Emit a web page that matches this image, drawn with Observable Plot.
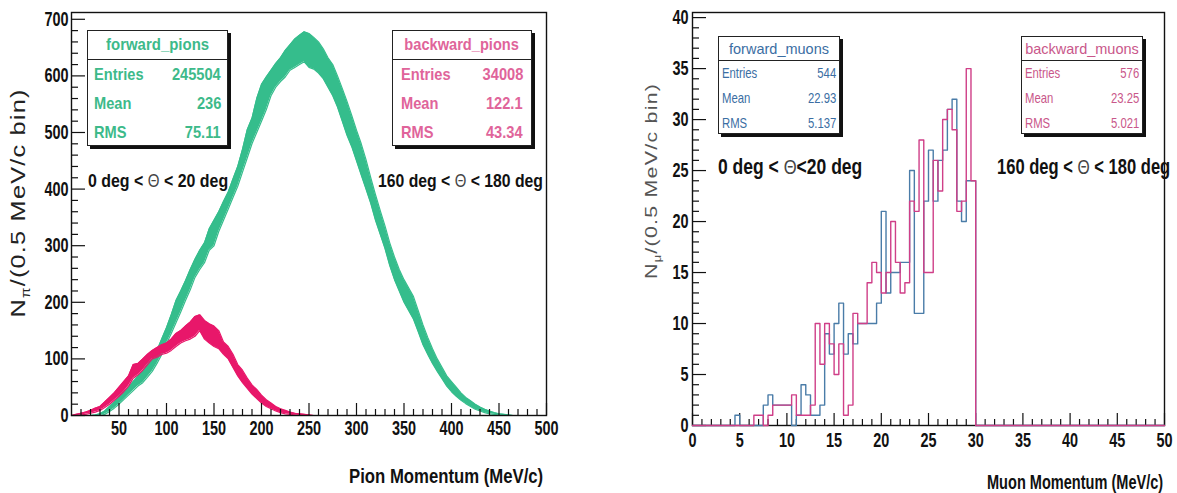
<!DOCTYPE html>
<html><head><meta charset="utf-8">
<script src="https://cdn.jsdelivr.net/npm/d3@7"></script>
<script src="https://cdn.jsdelivr.net/npm/@observablehq/plot@0.6"></script>
<style>
body{margin:0;background:#fff;}
#wrap{position:relative;width:1177px;height:493px;overflow:hidden;background:#fff;}
.panel{position:absolute;top:0;}
.stat{position:absolute;background:#fff;border:1.3px solid #222;box-shadow:3px 3px 0 #111;box-sizing:border-box;}
.stat .hd{border-bottom:1.3px solid #222;box-sizing:border-box;display:flex;align-items:center;justify-content:center;}
.stat .row{display:flex;justify-content:space-between;align-items:center;box-sizing:border-box;}
.stat span{display:inline-block;white-space:nowrap;}
</style></head>
<body><div id="wrap"></div>
<script>
// ---------- DATA ----------
// pion momentum grid (MeV/c), band: low / high edge of the noisy histogram
const pionMomentum = d3.range(0, 501, 5);
const forwardPionLow = [0,0,0,0,0,0,0,2,7,13,20,28,36,44,52,58,68,78,92,108,127,145,164,183,203,222,244,258,270,292,300,325,345,365,385,405,430,455,480,500,520,540,565,580,590,598,610,615,620,625,615,612,605,595,580,565,545,520,495,475,450,425,400,375,345,320,295,265,240,220,200,185,170,148,125,108,92,78,65,52,42,34,27,21,16,11,8,5,3,2,1,0,0,0,0,0,0,0,0,0,0];
const forwardPionHigh = [0,0,0,0,0,1,3,8,16,24,34,42,50,60,70,78,90,100,115,135,155,178,203,220,238,258,276,292,305,330,345,360,378,395,418,440,470,505,525,560,585,598,610,622,632,645,655,665,672,678,675,668,660,648,632,620,600,578,555,530,504,480,452,420,390,362,335,305,280,258,240,225,210,185,160,138,118,100,85,70,60,50,40,32,26,20,15,11,8,5,3,2,1,0,0,0,0,0,0,0,0];
const backwardPionLow = [0,0,1,2,4,6,9,14,20,27,34,42,52,66,72,80,90,100,103,108,110,115,122,128,132,135,140,150,135,128,122,118,108,100,85,70,58,48,38,30,22,16,12,8,5,3,2,1,0,0,0,0,0,0,0,0,0,0,0,0,0,0,0,0,0,0,0,0,0,0,0,0,0,0,0,0,0,0,0,0,0,0,0,0,0,0,0,0,0,0,0,0,0,0,0,0,0,0,0,0,0];
const backwardPionHigh = [0,2,4,6,9,13,16,24,32,40,50,60,70,90,92,100,108,115,120,125,128,135,145,150,158,165,175,178,168,162,158,150,130,122,108,90,80,66,54,46,36,28,22,16,12,9,6,4,3,2,1,0,0,0,0,0,0,0,0,0,0,0,0,0,0,0,0,0,0,0,0,0,0,0,0,0,0,0,0,0,0,0,0,0,0,0,0,0,0,0,0,0,0,0,0,0,0,0,0,0,0];
// muon histograms: counts per 0.5 MeV/c bin, 0 .. 50 MeV/c
const muonBinWidth = 0.5;
const forwardMuons = [0,0,0,0,0,0,0,0,0,1, 0,0,0,0,0,2,3,2,2,2, 2,0,1,4,3,1,1,2,9,7, 10,12,7,9,8,10,10,10,10,12, 21,13,15,15,16,16,25,11,11,22, 27,22,26,27,31,32,22,20,24,24, 0,0,0,0,0,0,0,0,0,0, 0,0,0,0,0,0,0,0,0,0, 0,0,0,0,0,0,0,0,0,0, 0,0,0,0,0,0,0,0,0,0];
const backwardMuons = [0,0,0,0,0,0,0,0,0,0, 0,0,0,1,1,0,1,2,2,2, 2,3,1,1,1,2,10,6,10,8, 5,8,1,2,11,10,10,14,16,15, 13,15,20,16,13,14,22,21,28,15, 15,26,23,30,31,29,21,22,35,24, 0,0,0,0,0,0,0,0,0,0, 0,0,0,0,0,0,0,0,0,0, 0,0,0,0,0,0,0,0,0,0, 0,0,0,0,0,0,0,0,0,0];
// axis ticks
const pionXTicks = [50,100,150,200,250,300,350,400,450,500];
const pionYTicks = [0,100,200,300,400,500,600,700];
const muonXTicks = [0,5,10,15,20,25,30,35,40,45,50];
const muonYTicks = [0,5,10,15,20,25,30,35,40];
// statistics boxes
const statNames = ["forward_pions","backward_pions","forward_muons","backward_muons"];
const statEntries = ["245504","34008","544","576"];
const statMeans = ["236","122.1","22.93","23.25"];
const statRMS = ["75.11","43.34","5.137","5.021"];

// ---------- STYLE ----------
const GREEN = "#35bd8c", PINK = "#e8176a", MU_BLUE = "#4a7ca8", MU_PINK = "#cf3f88";
const SANS = "'Liberation Sans',Arial,Helvetica,sans-serif";
const wrap = document.getElementById("wrap");

function tickMarks(axis, values, size) {
  return axis(values, {tickSize: size, tickFormat: () => "", stroke: "#111", strokeWidth: 1.2, label: null});
}
function tickLabels(axis, values, pad) {
  return axis(values, {tickSize: 0, tickPadding: pad, label: null, fontWeight: "bold", fontFamily: SANS, fontSize: 17, fill: "#111"});
}
// narrow/tall look of the original tick labels (scale about each label's own anchor)
function squeeze(svg, sx, sy) {
  svg.querySelectorAll('g[aria-label$="tick label"] text').forEach(t => {
    const tr = t.getAttribute("transform");
    if (tr && tr.includes("translate")) t.setAttribute("transform", `${tr} scale(${sx},${sy})`);
  });
}

// ---------- LEFT PANEL (pions) ----------
const pionRows = pionMomentum.map((p, i) => ({p, fl: forwardPionLow[i], fh: forwardPionHigh[i], bl: backwardPionLow[i], bh: backwardPionHigh[i]}));
const pionXMinor = d3.range(10, 500, 10).filter(v => v % 50 !== 0);
const pionYMinor = d3.range(20, 700, 20).filter(v => v % 100 !== 0);
const left = Plot.plot({
  width: 590, height: 493,
  marginLeft: 71, marginRight: 44, marginTop: 12, marginBottom: 78,
  x: {domain: [0, 500], axis: null},
  y: {domain: [0, 712], axis: null},
  style: {background: "transparent", overflow: "visible"},
  marks: [
    Plot.areaY(pionRows, {x: "p", y1: "fl", y2: "fh", fill: GREEN}),
    Plot.line(pionRows, {x: "p", y: "fh", stroke: GREEN, strokeWidth: 1.2}),
    Plot.line(pionRows, {x: "p", y: "fl", stroke: GREEN, strokeWidth: 1.2}),
    Plot.areaY(pionRows, {x: "p", y1: "bl", y2: "bh", fill: PINK}),
    Plot.line(pionRows, {x: "p", y: "bh", stroke: PINK, strokeWidth: 1.2}),
    Plot.line(pionRows, {x: "p", y: "bl", stroke: PINK, strokeWidth: 1.2}),
    Plot.frame({stroke: "#111", strokeWidth: 1.4}),
    tickMarks(Plot.axisX, pionXTicks, -12),
    tickMarks(Plot.axisX, pionXMinor, -6),
    tickMarks(Plot.axisY, pionYTicks, -14),
    tickMarks(Plot.axisY, pionYMinor, -7),
    tickLabels(Plot.axisX, pionXTicks, 5),
    tickLabels(Plot.axisY, pionYTicks, 3)
  ]
});
squeeze(left, 0.85, 1.2);
left.classList.add("panel"); left.style.left = "0px";
wrap.appendChild(left);

// ---------- RIGHT PANEL (muons) ----------
function steps(counts) {
  const pts = counts.map((c, i) => ({m: i * muonBinWidth, c}));
  pts.push({m: counts.length * muonBinWidth, c: counts[counts.length - 1]});
  return pts;
}
const muonXMinor = d3.range(1, 50, 1).filter(v => v % 5 !== 0);
const muonYMinor = d3.range(1, 40, 1).filter(v => v % 5 !== 0);
const right = Plot.plot({
  width: 587, height: 493,
  marginLeft: 102, marginRight: 13, marginTop: 12, marginBottom: 68,
  x: {domain: [0, 50], axis: null},
  y: {domain: [0, 40.5], axis: null},
  style: {background: "transparent", overflow: "visible"},
  marks: [
    Plot.frame({stroke: "#111", strokeWidth: 1.4}),
    tickMarks(Plot.axisX, muonXTicks, -12),
    tickMarks(Plot.axisX, muonXMinor, -6),
    tickMarks(Plot.axisY, muonYTicks, -14),
    tickMarks(Plot.axisY, muonYMinor, -7),
    Plot.line(steps(forwardMuons), {x: "m", y: "c", curve: "step-after", stroke: MU_BLUE, strokeWidth: 1.4}),
    Plot.line(steps(backwardMuons), {x: "m", y: "c", curve: "step-after", stroke: MU_PINK, strokeWidth: 1.4}),
    tickLabels(Plot.axisX, muonXTicks, 7),
    tickLabels(Plot.axisY, muonYTicks, 4)
  ]
});
squeeze(right, 0.85, 1.2);
right.classList.add("panel"); right.style.left = "590px";
wrap.appendChild(right);

// ---------- TEXT OVERLAYS ----------
function label(html, {cx, cy, w, size, weight = "bold", color = "#111", family = SANS, rotate = false, ls = 0, sy = 1}) {
  const d = document.createElement("div");
  d.innerHTML = html;
  d.style.cssText = `position:absolute;left:0;top:0;white-space:nowrap;font-weight:${weight};font-size:${size}px;font-family:${family};color:${color};line-height:1;letter-spacing:${ls}px;transform-origin:0 0;`;
  wrap.appendChild(d);
  const bw = d.offsetWidth, bh = d.offsetHeight;
  const sx = w ? w / bw : 1;
  d.style.transform = `translate(${cx}px,${cy}px) rotate(${rotate ? -90 : 0}deg) scale(${sx},${sy}) translate(${-bw / 2}px,${-bh / 2}px)`;
  return d;
}
const TH = `<span style="font-weight:normal;color:#444;font-size:0.95em">Θ</span>`;
// axis titles
label(`N<sub style="font-size:0.6em">π</sub>/(0.5 MeV/c bin)`, {cx: 20, cy: 203, w: 229, size: 21, weight: "normal", color: "#222", rotate: true, ls: 1});
label("Pion Momentum (MeV/c)", {cx: 446, cy: 476, w: 194, size: 20});
label(`N<sub style="font-size:0.6em">μ</sub>/(0.5 MeV/c bin)`, {cx: 653, cy: 181, w: 196, size: 17, weight: "normal", color: "#555", rotate: true, ls: 1});
label("Muon Momentum (MeV/c)", {cx: 1075, cy: 482, w: 176, size: 20});
// angle annotations
label(`0 deg &lt; ${TH} &lt; 20 deg`, {cx: 158, cy: 180, w: 140, size: 19});
label(`160 deg &lt; ${TH} &lt; 180 deg`, {cx: 460.5, cy: 180, w: 165, size: 19});
label(`0 deg &lt; ${TH}&lt;20 deg`, {cx: 790, cy: 167, w: 144, size: 22});
label(`160 deg &lt; ${TH} &lt; 180 deg`, {cx: 1083.5, cy: 167, w: 173, size: 22});

// statistics boxes
function statBox(i, {x, y, w, h, hd, color, size, weight, pad, sx, hsx}) {
  const b = document.createElement("div");
  b.className = "stat";
  b.style.cssText += `left:${x}px;top:${y}px;width:${w}px;height:${h}px;color:${color};font-family:${SANS};font-size:${size}px;font-weight:${weight};`;
  const rowH = (h - hd) / 3;
  b.innerHTML = `<div class="hd" style="height:${hd}px"><span style="transform:scaleX(${hsx})">${statNames[i]}</span></div>` +
    [["Entries", statEntries[i]], ["Mean", statMeans[i]], ["RMS", statRMS[i]]]
      .map(([k, v]) => `<div class="row" style="height:${rowH}px;padding:0 ${pad}px"><span style="transform:scaleX(${sx});transform-origin:left center">${k}</span><span style="transform:scaleX(${sx});transform-origin:right center">${v}</span></div>`).join("");
  wrap.appendChild(b);
}
statBox(0, {x: 87, y: 30, w: 141, h: 116, hd: 29, color: "#3dba8a", size: 17, weight: "bold", pad: 6, sx: 0.86, hsx: 0.88});
statBox(1, {x: 392, y: 30, w: 140, h: 116, hd: 29, color: "#e0649a", size: 17, weight: "bold", pad: 8, sx: 0.86, hsx: 0.86});
statBox(2, {x: 718, y: 36, w: 122, h: 98, hd: 24, color: "#3b6ea3", size: 14.5, weight: "normal", pad: 3, sx: 0.78, hsx: 1});
statBox(3, {x: 1021, y: 36, w: 122, h: 98, hd: 24, color: "#c9578a", size: 14.5, weight: "normal", pad: 3, sx: 0.78, hsx: 1});
</script>
</body></html>
